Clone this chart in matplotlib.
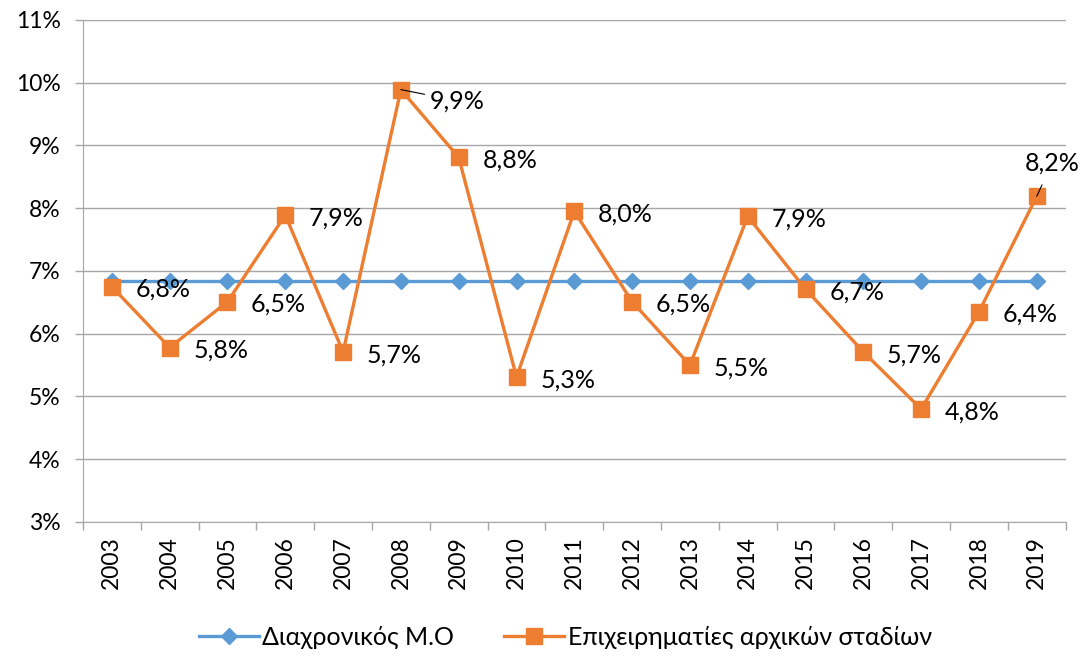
"""Early-stage entrepreneurship rate vs. long-run average, 2003-2019."""

import matplotlib
matplotlib.use("Agg")  # headless backend
import matplotlib.pyplot as plt
import numpy as np
from matplotlib.ticker import FuncFormatter


# ── Data ──────────────────────────────────────────────────────────────────────

YEARS = ["2003", "2004", "2005", "2006", "2007", "2008", "2009", "2010", "2011",
         "2012", "2013", "2014", "2015", "2016", "2017", "2018", "2019"]
EARLY_STAGE = [6.75, 5.78, 6.51, 7.89, 5.71, 9.89, 8.81, 5.31, 7.95,
               6.51, 5.50, 7.87, 6.71, 5.71, 4.80, 6.35, 8.19]
LONG_RUN_AVG = [6.84, 6.84, 6.84, 6.84, 6.84, 6.84, 6.84, 6.84, 6.84,
                6.84, 6.84, 6.84, 6.84, 6.84, 6.84, 6.84, 6.84]
LABELS = ["6,8%", "5,8%", "6,5%", "7,9%", "5,7%", "9,9%", "8,8%", "5,3%", "8,0%",
          "6,5%", "5,5%", "7,9%", "6,7%", "5,7%", "4,8%", "6,4%", "8,2%"]

AVG_NAME = "Διαχρονικός Μ.Ο"
EARLY_NAME = "Επιχειρηματίες αρχικών σταδίων"

BLUE = "#5B9BD5"
ORANGE = "#ED7D31"
GRID = "#A6A6A6"

plt.rcParams["font.family"] = ["Lato", "Noto Sans", "DejaVu Sans"]


# ── Chart ─────────────────────────────────────────────────────────────────────

fig = plt.figure(figsize=(10.83, 6.57), dpi=100)
ax = fig.add_axes([0.0766, 0.2055, 0.9074, 0.7641])

x = np.arange(len(YEARS))

ax.plot(x, LONG_RUN_AVG, color=BLUE, lw=2.4, marker="D", markersize=8,
        label=AVG_NAME, zorder=3)
ax.plot(x, EARLY_STAGE, color=ORANGE, lw=2.4, marker="s", markersize=11,
        label=EARLY_NAME, zorder=4)

# data labels (two of them carry a small leader line in the original)
for i, (v, txt) in enumerate(zip(EARLY_STAGE, LABELS)):
    if YEARS[i] == "2008":
        ax.annotate(txt, (i, v), xytext=(21, -8), textcoords="offset points",
                    ha="left", va="center", fontsize=18, zorder=5,
                    arrowprops=dict(arrowstyle="-", color="black", lw=0.8,
                                    shrinkA=2, shrinkB=0))
    elif YEARS[i] == "2019":
        ax.annotate(txt, (i, v), xytext=(11, 24), textcoords="offset points",
                    ha="center", va="center", fontsize=18, zorder=5,
                    arrowprops=dict(arrowstyle="-", color="black", lw=0.8,
                                    shrinkA=6, shrinkB=0))
    else:
        ax.annotate(txt, (i, v), xytext=(17, -2), textcoords="offset points",
                    ha="left", va="center", fontsize=18, zorder=5)

ax.set_xlim(-0.5, len(YEARS) - 0.5)
ax.set_ylim(3, 11)
ax.set_yticks(np.arange(3, 12, 1))
ax.yaxis.set_major_formatter(FuncFormatter(lambda v, _: f"{v:.0f}%"))

ax.set_xticks(x)
ax.set_xticklabels(YEARS, rotation=90, fontsize=16.5)
ax.set_xticks(np.arange(-0.5, len(YEARS), 1), minor=True)
ax.tick_params(axis="x", which="major", length=0, pad=10)
ax.tick_params(axis="x", which="minor", length=6, color=GRID, width=1)
ax.tick_params(axis="y", length=6, color=GRID, width=1, labelsize=16.5, pad=10)

ax.grid(axis="y", color=GRID, lw=1)
ax.set_axisbelow(True)
ax.spines[["top", "right"]].set_visible(False)
ax.spines["left"].set_color(GRID)
ax.spines["bottom"].set_color(GRID)
ax.spines["bottom"].set_zorder(2)

fig.legend(loc="center", bbox_to_anchor=(0.522, 0.03), ncol=2, frameon=False,
           fontsize=18, handlelength=2.4, handletextpad=0.15, columnspacing=2.0)

fig.savefig("out.png", dpi=100)
plt.close(fig)
